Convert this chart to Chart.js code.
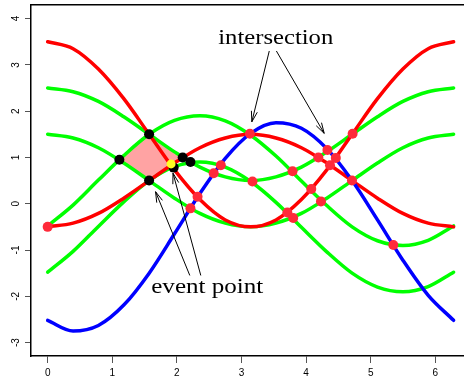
<!DOCTYPE html>
<html>
<head>
<meta charset="utf-8">
<script src="https://cdn.jsdelivr.net/npm/chart.js@4.4.1/dist/chart.umd.min.js"></script>
<style>
html, body { margin: 0; padding: 0; background: #fff; overflow: hidden; }
canvas { display: block; }
</style>
</head>
<body>
<canvas id="chart" width="464" height="387"></canvas>
<script>
const xs = [0, 0.393, 0.785, 1.178, 1.571, 1.963, 2.356, 2.749, 3.142, 3.534, 3.927, 4.320, 4.712, 5.105, 5.498, 5.890, 6.283];

const redUpper = [3.5, 3.35, 2.91, 2.27, 1.5, 0.73, 0.09, -0.35, -0.5, -0.35, 0.09, 0.73, 1.5, 2.27, 2.91, 3.35, 3.5];
const redLower = [-0.5, -0.42, -0.21, 0.12, 0.5, 0.88, 1.21, 1.42, 1.5, 1.42, 1.21, 0.88, 0.5, 0.12, -0.21, -0.42, -0.5];
const green1 = [2.5, 2.42, 2.21, 1.88, 1.5, 1.12, 0.79, 0.58, 0.5, 0.58, 0.79, 1.12, 1.5, 1.88, 2.21, 2.42, 2.5];
const green2 = [1.5, 1.42, 1.21, 0.88, 0.5, 0.12, -0.21, -0.42, -0.5, -0.42, -0.21, 0.12, 0.5, 0.88, 1.21, 1.42, 1.5];
const green3 = [-0.48, -0.03, 0.51, 1.04, 1.5, 1.8, 1.9, 1.79, 1.48, 1.03, 0.49, -0.04, -0.5, -0.8, -0.9, -0.79, -0.48];
const green4 = [-1.48, -1.03, -0.49, 0.04, 0.5, 0.8, 0.9, 0.79, 0.48, 0.03, -0.51, -1.04, -1.5, -1.8, -1.9, -1.79, -1.48];
const blue = [-2.52, -2.75, -2.63, -2.19, -1.5, -0.65, 0.22, 0.98, 1.52, 1.75, 1.63, 1.19, 0.5, -0.35, -1.22, -1.98, -2.52];

// red dots = intersections found so far
const crossX = [0, 2.21, 2.32, 2.57, 2.68, 3.13, 3.17, 3.71, 3.80, 3.79, 4.08, 4.19, 4.23, 4.33, 4.37, 4.46, 4.71, 4.72, 5.35];
const crossY = [-0.5, -0.1, 0.15, 0.66, 0.83, 1.51, 0.48, -0.19, -0.31, 0.7, 0.32, 1.0, 0.05, 1.16, 0.83, 0.99, 0.5, 1.51, -0.89];

// black dots = event points, yellow = current one
const eventX = [1.11, 1.57, 1.57, 1.95, 2.09, 2.21];
const eventY = [0.95, 1.5, 0.5, 0.78, 1.0, 0.9];
const currentX = [1.91];
const currentY = [0.86];

// pink region between the event points
const regionX = [1.11, 1.57, 2.09, 1.57, 1.11];
const regionY = [0.95, 1.5, 1.0, 0.5, 0.95];

const xTicks = [0, 1, 2, 3, 4, 5, 6];
const yTicks = [-3, -2, -1, 0, 1, 2, 3, 4];

const notes = [
    { text: 'intersection', x: 3.53, y: 3.45, width: 115,
      arrows: [[3.43, 3.30, 3.16, 1.77], [3.54, 3.30, 4.28, 1.52]] },
    { text: 'event point', x: 2.47, y: -1.92, width: 112,
      arrows: [[2.20, -1.55, 1.67, 0.26], [2.37, -1.55, 1.94, 0.66]] }
];

function pts(xv, yv) {
    return xv.map((x, i) => ({ x: x, y: yv[i] }));
}

function curve(yv, color) {
    return {
        data: pts(xs, yv),
        showLine: true,
        borderColor: color,
        borderWidth: 3.5,
        borderCapStyle: 'round',
        pointRadius: 0,
        cubicInterpolationMode: 'monotone',
        fill: false,
        order: color === '#0000ff' ? 2 : (color === '#ff0000' ? 3 : 4)
    };
}

function dots(xv, yv, color, r, order) {
    return {
        data: pts(xv, yv),
        showLine: false,
        pointRadius: r,
        pointBackgroundColor: color,
        pointBorderWidth: 0,
        order: order
    };
}

const extras = {
    id: 'extras',
    afterDatasetsDraw(chart) {
        const ctx = chart.ctx;
        const a = chart.chartArea;
        const sx = chart.scales.x, sy = chart.scales.y;
        ctx.save();
        // top edge of the box
        ctx.strokeStyle = '#000';
        ctx.lineWidth = 1.5;
        ctx.beginPath();
        ctx.moveTo(a.left, a.top);
        ctx.lineTo(a.right, a.top);
        ctx.stroke();

        notes.forEach(n => {
            ctx.lineWidth = 1;
            n.arrows.forEach(ar => {
                const x1 = sx.getPixelForValue(ar[0]), y1 = sy.getPixelForValue(ar[1]);
                const x2 = sx.getPixelForValue(ar[2]), y2 = sy.getPixelForValue(ar[3]);
                ctx.beginPath();
                ctx.moveTo(x1, y1);
                ctx.lineTo(x2, y2);
                const ang = Math.atan2(y2 - y1, x2 - x1);
                const len = 11, sp = 0.28;
                ctx.moveTo(x2 - len * Math.cos(ang - sp), y2 - len * Math.sin(ang - sp));
                ctx.lineTo(x2, y2);
                ctx.lineTo(x2 - len * Math.cos(ang + sp), y2 - len * Math.sin(ang + sp));
                ctx.stroke();
            });
            ctx.font = '21px "Liberation Serif", serif';
            ctx.fillStyle = '#000';
            ctx.textAlign = 'center';
            ctx.textBaseline = 'alphabetic';
            const w = ctx.measureText(n.text).width;
            ctx.save();
            ctx.translate(sx.getPixelForValue(n.x), sy.getPixelForValue(n.y));
            ctx.scale(n.width / w, 1);
            ctx.fillText(n.text, 0, 0);
            ctx.restore();
        });
        ctx.restore();
    }
};

new Chart(document.getElementById('chart'), {
    type: 'scatter',
    data: {
        datasets: [
            {
                data: pts(regionX, regionY),
                showLine: true,
                tension: 0,
                borderWidth: 0,
                pointRadius: 0,
                backgroundColor: '#ffa3a3',
                fill: 'shape',
                order: 5
            },
            curve(green1, '#00ff00'),
            curve(green2, '#00ff00'),
            curve(green3, '#00ff00'),
            curve(green4, '#00ff00'),
            curve(redUpper, '#ff0000'),
            curve(redLower, '#ff0000'),
            curve(blue, '#0000ff'),
            dots(crossX, crossY, '#ff2a3a', 5, 1),
            dots(eventX, eventY, '#000000', 5, 1),
            dots(currentX, currentY, '#ffff22', 4.5, 0)
        ]
    },
    options: {
        responsive: false,
        animation: false,
        layout: { autoPadding: false, padding: { top: 4.7, right: 0, left: 0, bottom: 0 } },
        plugins: { legend: { display: false }, tooltip: { enabled: false } },
        scales: {
            x: {
                type: 'linear',
                min: -0.258,
                max: 6.444,
                afterBuildTicks: s => { s.ticks = xTicks.map(v => ({ value: v })); },
                afterFit: s => { s.height = 31; s.paddingLeft = 0; s.paddingRight = 0; },
                grid: { drawOnChartArea: false, drawTicks: true, tickLength: 7, color: '#555', lineWidth: 1 },
                border: { display: true, color: '#000', width: 1.5 },
                ticks: { color: '#000', font: { family: '"Liberation Sans", Arial, sans-serif', size: 10 }, padding: 4, maxRotation: 0 }
            },
            y: {
                type: 'linear',
                min: -3.29,
                max: 4.30,
                afterBuildTicks: s => { s.ticks = yTicks.map(v => ({ value: v })); },
                afterFit: s => { s.width = 31; s.paddingTop = 0; s.paddingBottom = 0; },
                grid: { drawOnChartArea: false, drawTicks: true, tickLength: 6, color: '#555', lineWidth: 1 },
                border: { display: true, color: '#000', width: 1.5 },
                ticks: { color: '#000', font: { family: '"Liberation Sans", Arial, sans-serif', size: 10 }, padding: 4, minRotation: 90, maxRotation: 90, crossAlign: 'center' }
            }
        }
    },
    plugins: [extras]
});
</script>
</body>
</html>
